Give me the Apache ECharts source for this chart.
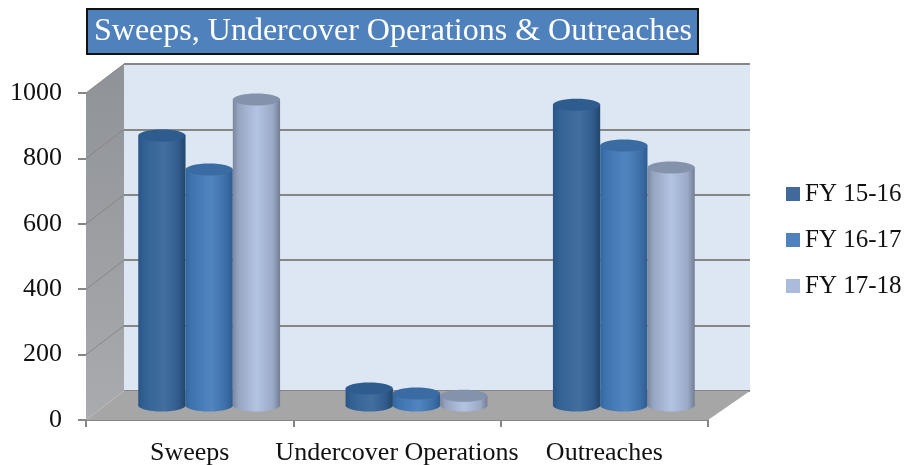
<!DOCTYPE html>
<html>
<head>
<meta charset="utf-8">
<style>html,body{margin:0;padding:0;background:#fff}#c{width:904px;height:465px}</style>
<script src="https://cdn.jsdelivr.net/npm/echarts@6/dist/echarts.min.js"></script>
</head>
<body>
<div id="c"></div>
<script>
const titleText = 'Sweeps, Undercover Operations & Outreaches';
const categories = ['Sweeps', 'Undercover Operations', 'Outreaches'];
const seriesNames = ['FY 15-16', 'FY 16-17', 'FY 17-18'];
const fy1516 = [826, 52, 920];
const fy1617 = [722, 37, 795];
const fy1718 = [936, 30, 728];
const yTicks = [0, 200, 400, 600, 800, 1000];

const FONT = '"Liberation Serif", serif';
const DEPTH_X = 38, DEPTH_Y = 29;
const RY = 6;

const chart = echarts.init(document.getElementById('c'), null, {renderer: 'canvas'});

function hGrad(stops) {
  return new echarts.graphic.LinearGradient(0, 0, 1, 0,
    stops.map((c, i) => ({offset: c[0], color: c[1]})));
}

const looks = [
  {legend: '#41699a', top: '#2f5c8f',
   body: [[0, '#2a5485'], [0.12, '#316193'], [0.55, '#436f9f'], [0.85, '#305b8c'], [1, '#234669']]},
  {legend: '#4f81bd', top: '#3a6ca3',
   body: [[0, '#33669d'], [0.12, '#3d74b0'], [0.55, '#5085c0'], [0.85, '#3c6fa8'], [1, '#2f5c90']]},
  {legend: '#aabbdc', top: '#8492ab',
   body: [[0, '#7c879e'], [0.12, '#96a4c0'], [0.5, '#b3c4e3'], [0.85, '#9aa9c6'], [1, '#727e94']]}
];

function cylinder(seriesPos, look) {
  return function (params, api) {
    const idx = api.value(0), val = api.value(1);
    const band = api.size([1, 0])[0];
    const w = band * 0.228;
    const base = api.coord([idx, 0]);
    const top = api.coord([idx, val]);
    const cx = base[0] + DEPTH_X / 2 + 0.5 + seriesPos * w;
    const by = base[1] - DEPTH_Y / 2;
    const ty = top[1] - DEPTH_Y / 2;
    const fill = hGrad(look.body);
    return {
      type: 'group',
      children: [
        {type: 'ellipse', shape: {cx, cy: by, rx: w / 2, ry: RY}, style: {fill}},
        {type: 'rect', shape: {x: cx - w / 2, y: ty, width: w, height: by - ty}, style: {fill}},
        {type: 'ellipse', shape: {cx, cy: ty, rx: w / 2, ry: RY}, style: {fill: look.top}}
      ]
    };
  };
}

const shell = {
  type: 'custom',
  silent: true,
  xAxisIndex: 0, yAxisIndex: 0,
  z: 1,
  data: yTicks.map(v => [0, v]),
  encode: {x: 0, y: 1},
  renderItem(params, api) {
    const v = api.value(1);
    const p = api.coord([0, v]);
    const left = p[0] - api.size([1, 0])[0] / 2;
    const zero = api.coord([0, 0]);
    const maxY = api.coord([0, 1000])[1];
    const children = [];
    if (params.dataIndex === 0) {
      const w = api.size([1, 0])[0] * 3;
      children.push({
        type: 'polygon', z2: 0,
        shape: {points: [[left, maxY], [left + DEPTH_X, maxY - DEPTH_Y], [left + DEPTH_X, zero[1] - DEPTH_Y], [left, zero[1]]]},
        style: {fill: new echarts.graphic.LinearGradient(0, 0, 0, 1, [
          {offset: 0, color: '#8f9297'}, {offset: 1, color: '#a9abae'}])}
      });
      children.push({
        type: 'polygon', z2: 1,
        shape: {points: [[left, zero[1]], [left + DEPTH_X, zero[1] - DEPTH_Y], [left + w + 42, zero[1] - DEPTH_Y], [left + w, zero[1]]]},
        style: {fill: '#a6a6a6'}
      });
    }
    if (v > 0) {
      children.push({
        type: 'line', z2: 2,
        shape: {x1: left, y1: p[1], x2: left + DEPTH_X, y2: p[1] - DEPTH_Y},
        style: {stroke: '#85878a', lineWidth: 1}
      });
    }
    return {type: 'group', children};
  }
};

const cylinders = [fy1516, fy1617, fy1718].map((vals, i) => ({
  type: 'custom',
  name: seriesNames[i],
  xAxisIndex: 0, yAxisIndex: 0,
  z: 5 + i,
  itemStyle: {color: looks[i].legend},
  data: vals.map((v, k) => [k, v]),
  encode: {x: 0, y: 1},
  renderItem: cylinder(i - 1, looks[i])
}));

chart.setOption({
  animation: false,
  backgroundColor: '#ffffff',
  title: {
    text: titleText,
    left: 87, top: 11,
    padding: [7, 6, 6, 7],
    backgroundColor: '#4f81bd',
    borderColor: '#111111',
    borderWidth: 2,
    textStyle: {color: '#ffffff', fontFamily: FONT, fontWeight: 'normal', fontSize: 32, lineHeight: 28}
  },
  legend: {
    data: seriesNames,
    orient: 'vertical',
    left: 786, top: 180,
    itemWidth: 14, itemHeight: 14,
    itemGap: 18,
    icon: 'rect',
    padding: 0,
    textStyle: {fontFamily: FONT, fontSize: 25, color: '#111111', lineHeight: 28}
  },
  grid: [
    {left: 86, width: 622, top: 93, height: 327, outerBoundsMode: 'none'},
    {left: 124, width: 626, top: 64, height: 327, show: true, backgroundColor: '#dde7f3', borderWidth: 0, outerBoundsMode: 'none'}
  ],
  xAxis: [
    {
      type: 'category', data: categories, gridIndex: 0,
      axisLine: {lineStyle: {color: '#868686', width: 2}},
      axisTick: {show: true, length: 7, alignWithLabel: false, lineStyle: {color: '#868686', width: 2}},
      axisLabel: {color: '#111111', fontFamily: FONT, fontSize: 26, margin: 20, interval: 0},
      splitLine: {show: false}
    },
    {type: 'category', data: categories, gridIndex: 1, show: false}
  ],
  yAxis: [
    {
      type: 'value', gridIndex: 0, min: 0, max: 1000, interval: 200,
      axisLine: {show: true, lineStyle: {color: '#8b8b8b', width: 1}},
      axisTick: {show: true, length: 8, lineStyle: {color: '#868686', width: 2}},
      axisLabel: {color: '#111111', fontFamily: FONT, fontSize: 26, margin: 24, formatter: v => String(v)},
      splitLine: {show: false}
    },
    {
      type: 'value', gridIndex: 1, min: 0, max: 1000, interval: 200,
      axisLine: {show: false}, axisTick: {show: false}, axisLabel: {show: false},
      splitLine: {show: true, lineStyle: {color: '#868686', width: 2}}
    }
  ],
  series: [shell].concat(cylinders)
});
</script>
</body>
</html>
